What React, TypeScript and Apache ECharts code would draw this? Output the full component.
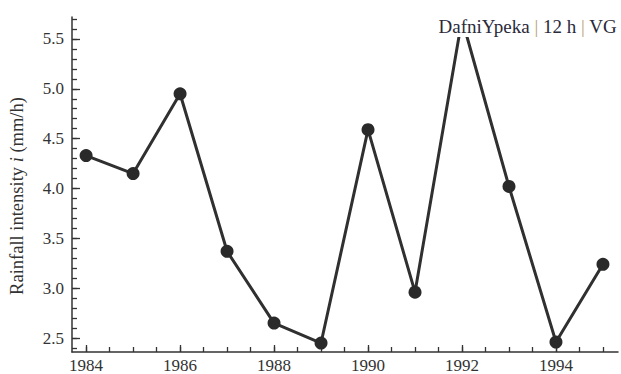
import React, { useEffect, useRef } from "react";
import * as echarts from "echarts";

const years = [1984, 1985, 1986, 1987, 1988, 1989, 1990, 1991, 1992, 1993, 1994, 1995];
const intensity = [4.33, 4.15, 4.95, 3.37, 2.65, 2.45, 4.59, 2.96, 5.7, 4.02, 2.46, 3.24];
const xMajorTicks = [1984, 1986, 1988, 1990, 1992, 1994];
const xMinorTicks = [1984, 1984.5, 1985, 1985.5, 1986, 1986.5, 1987, 1987.5, 1988, 1988.5, 1989, 1989.5, 1990, 1990.5, 1991, 1991.5, 1992, 1992.5, 1993, 1993.5, 1994, 1994.5, 1995];
const yMajorTicks = [2.5, 3.0, 3.5, 4.0, 4.5, 5.0, 5.5];
const yMinorTicks = [2.4, 2.5, 2.6, 2.7, 2.8, 2.9, 3.0, 3.1, 3.2, 3.3, 3.4, 3.5, 3.6, 3.7, 3.8, 3.9, 4.0, 4.1, 4.2, 4.3, 4.4, 4.5, 4.6, 4.7, 4.8, 4.9, 5.0, 5.1, 5.2, 5.3, 5.4, 5.5, 5.6, 5.7];
const titleText = "DafniYpeka {p||} 12 h {p||} VG";
const yAxisName = "Rainfall intensity {i|i} (mm/h)";

const FONT = "'Liberation Serif', 'DejaVu Serif', serif";
const INK = "#333333";

export default function App() {
  const ref = useRef<HTMLDivElement>(null);
  useEffect(() => {
    if (!ref.current) return;
    const chart = echarts.init(ref.current, null, { renderer: "svg" });
    const xBase = {
      type: "value" as const,
      min: 1983.7,
      max: 1995.32,
      position: "bottom" as const,
      offset: 0,
      splitLine: { show: false },
    };
    const yBase = {
      type: "value" as const,
      min: 2.36,
      max: 5.72,
      position: "left" as const,
      offset: 0,
      splitLine: { show: false },
    };
    chart.setOption({
      animation: false,
      backgroundColor: "#ffffff",
      grid: { left: 72, top: 17, right: 3, bottom: 21, containLabel: false },
      title: {
        text: titleText,
        right: 2,
        top: 6,
        z: 20,
        padding: [11, 2, 1, 2],
        backgroundColor: "#ffffff",
        textStyle: {
          fontFamily: FONT,
          fontSize: 19,
          fontWeight: "normal",
          color: "#2a2a3a",
          rich: { p: { fontFamily: FONT, fontSize: 19, color: "#b8a078" } },
        },
      },
      xAxis: [
        {
          ...xBase,
          axisLine: { show: true, lineStyle: { color: INK, width: 1.5 } },
          axisTick: { show: true, inside: true, length: 7, customValues: xMajorTicks, lineStyle: { color: INK, width: 1.3 } },
          axisLabel: {
            show: true,
            customValues: xMajorTicks,
            margin: 5,
            fontFamily: FONT,
            fontSize: 17,
            color: INK,
            formatter: (v: number) => String(v),
          },
        },
        {
          ...xBase,
          axisLine: { show: false },
          axisTick: { show: true, inside: true, length: 5, customValues: xMinorTicks, lineStyle: { color: INK, width: 1.3 } },
          axisLabel: { show: false },
        },
      ],
      yAxis: [
        {
          ...yBase,
          axisLine: { show: true, lineStyle: { color: INK, width: 1.5 } },
          axisTick: { show: true, inside: true, length: 8, customValues: yMajorTicks, lineStyle: { color: INK, width: 1.3 } },
          axisLabel: {
            show: true,
            customValues: yMajorTicks,
            margin: 8,
            fontFamily: FONT,
            fontSize: 17,
            color: INK,
            formatter: (v: number) => v.toFixed(1),
          },
        },
        {
          ...yBase,
          axisLine: { show: false },
          axisTick: { show: true, inside: true, length: 5, customValues: yMinorTicks, lineStyle: { color: INK, width: 1.3 } },
          axisLabel: { show: false },
        },
      ],
      graphic: [
        {
          type: "text",
          x: 17,
          y: 196,
          rotation: Math.PI / 2,
          style: {
            text: yAxisName,
            fontFamily: FONT,
            fontSize: 18.5,
            fill: INK,
            align: "center",
            verticalAlign: "middle",
            rich: { i: { fontFamily: FONT, fontSize: 18.5, fontStyle: "italic", fill: INK } },
          },
        },
      ],
      series: [
        {
          type: "line",
          xAxisIndex: 0,
          yAxisIndex: 0,
          data: years.map((y, i) => [y, intensity[i]]),
          symbol: "circle",
          symbolSize: 13,
          lineStyle: { color: "#303030", width: 3 },
          itemStyle: { color: "#2a2a2a" },
          z: 2,
        },
      ],
    });
    return () => chart.dispose();
  }, []);
  return (
    <div
      ref={ref}
      style={{ position: "fixed", left: 0, top: 0, width: 621, height: 374, background: "#fff" }}
    />
  );
}
